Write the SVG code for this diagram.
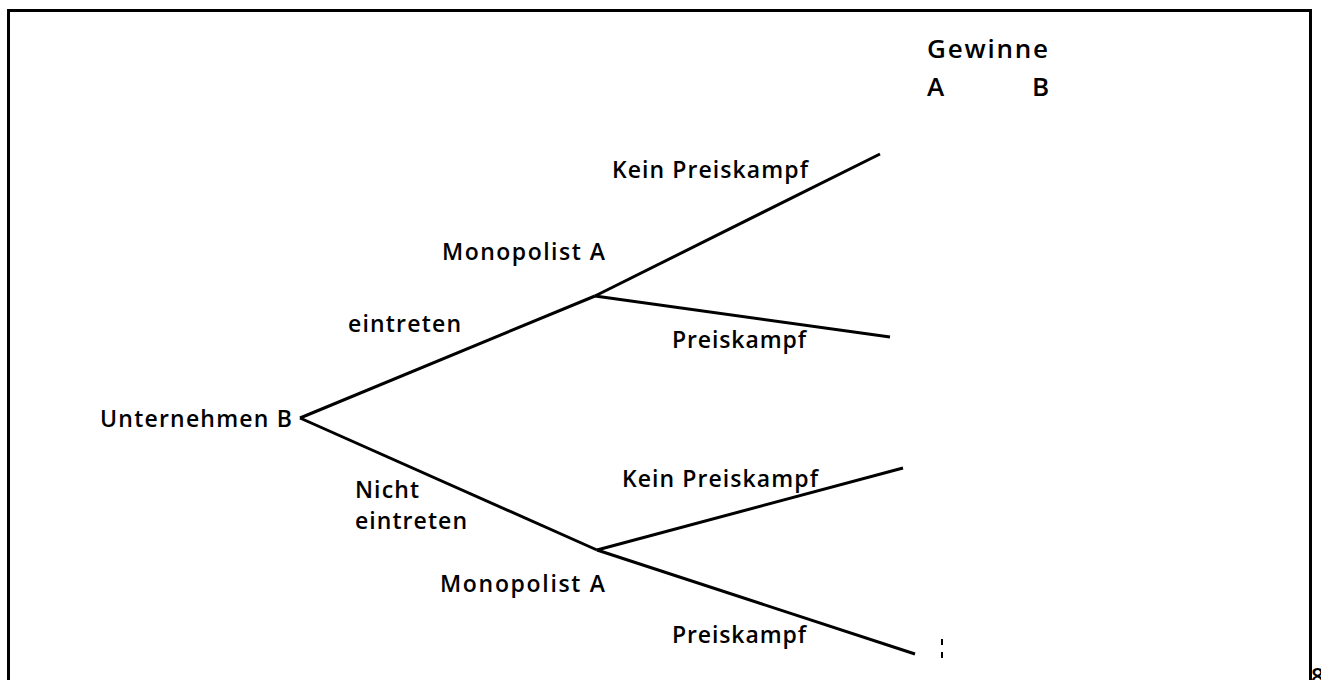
<svg xmlns="http://www.w3.org/2000/svg" width="1321" height="680" viewBox="0 0 1321 680">
<style>
text{font-family:"Open Sans","Noto Sans","DejaVu Sans",sans-serif;font-size:23px;font-weight:600;fill:#000}
.h{font-size:26px}
.e{stroke:#000;stroke-width:3;fill:none;stroke-linecap:butt}
</style>
<rect width="1321" height="680" fill="#fff"/>
<path d="M8.5,680 V10.5 H1310.5 V680" fill="none" stroke="#000" stroke-width="3"/>
<g id="connectors">
<line class="e" x1="300" y1="418" x2="595" y2="296"/>
<line class="e" x1="300" y1="418" x2="597" y2="550"/>
<line class="e" x1="595" y1="296" x2="880" y2="154"/>
<line class="e" x1="595" y1="296" x2="890" y2="337"/>
<line class="e" x1="597" y1="550" x2="903" y2="468"/>
<line class="e" x1="597" y1="550" x2="915" y2="654"/>
<line x1="942" y1="639" x2="942" y2="645" stroke="#000" stroke-width="2"/>
<line x1="942" y1="652" x2="942" y2="658" stroke="#000" stroke-width="2"/>
</g>
<g id="header">
<text class="h" x="927" y="58" textLength="121" lengthAdjust="spacing">Gewinne</text>
<text class="h" x="927" y="96">A</text>
<text class="h" x="1032" y="96">B</text>
</g>
<g id="root"><text x="100" y="427" textLength="192" lengthAdjust="spacing">Unternehmen B</text></g>
<g id="edge-labels">
<text x="348" y="332" textLength="113" lengthAdjust="spacing">eintreten</text>
<text x="355" y="498" textLength="64" lengthAdjust="spacing">Nicht</text>
<text x="355" y="529" textLength="112" lengthAdjust="spacing">eintreten</text>
</g>
<g id="node-upper"><text x="442" y="260" textLength="163" lengthAdjust="spacing">Monopolist A</text></g>
<g id="node-lower"><text x="440" y="592" textLength="165" lengthAdjust="spacing">Monopolist A</text></g>
<g id="leaf-labels">
<text x="612" y="178" textLength="196" lengthAdjust="spacing">Kein Preiskampf</text>
<text x="672" y="348" textLength="134" lengthAdjust="spacing">Preiskampf</text>
<text x="622" y="487" textLength="196" lengthAdjust="spacing">Kein Preiskampf</text>
<text x="672" y="643" textLength="134" lengthAdjust="spacing">Preiskampf</text>
</g>
<text x="1311" y="685" font-size="20">8</text>
</svg>
